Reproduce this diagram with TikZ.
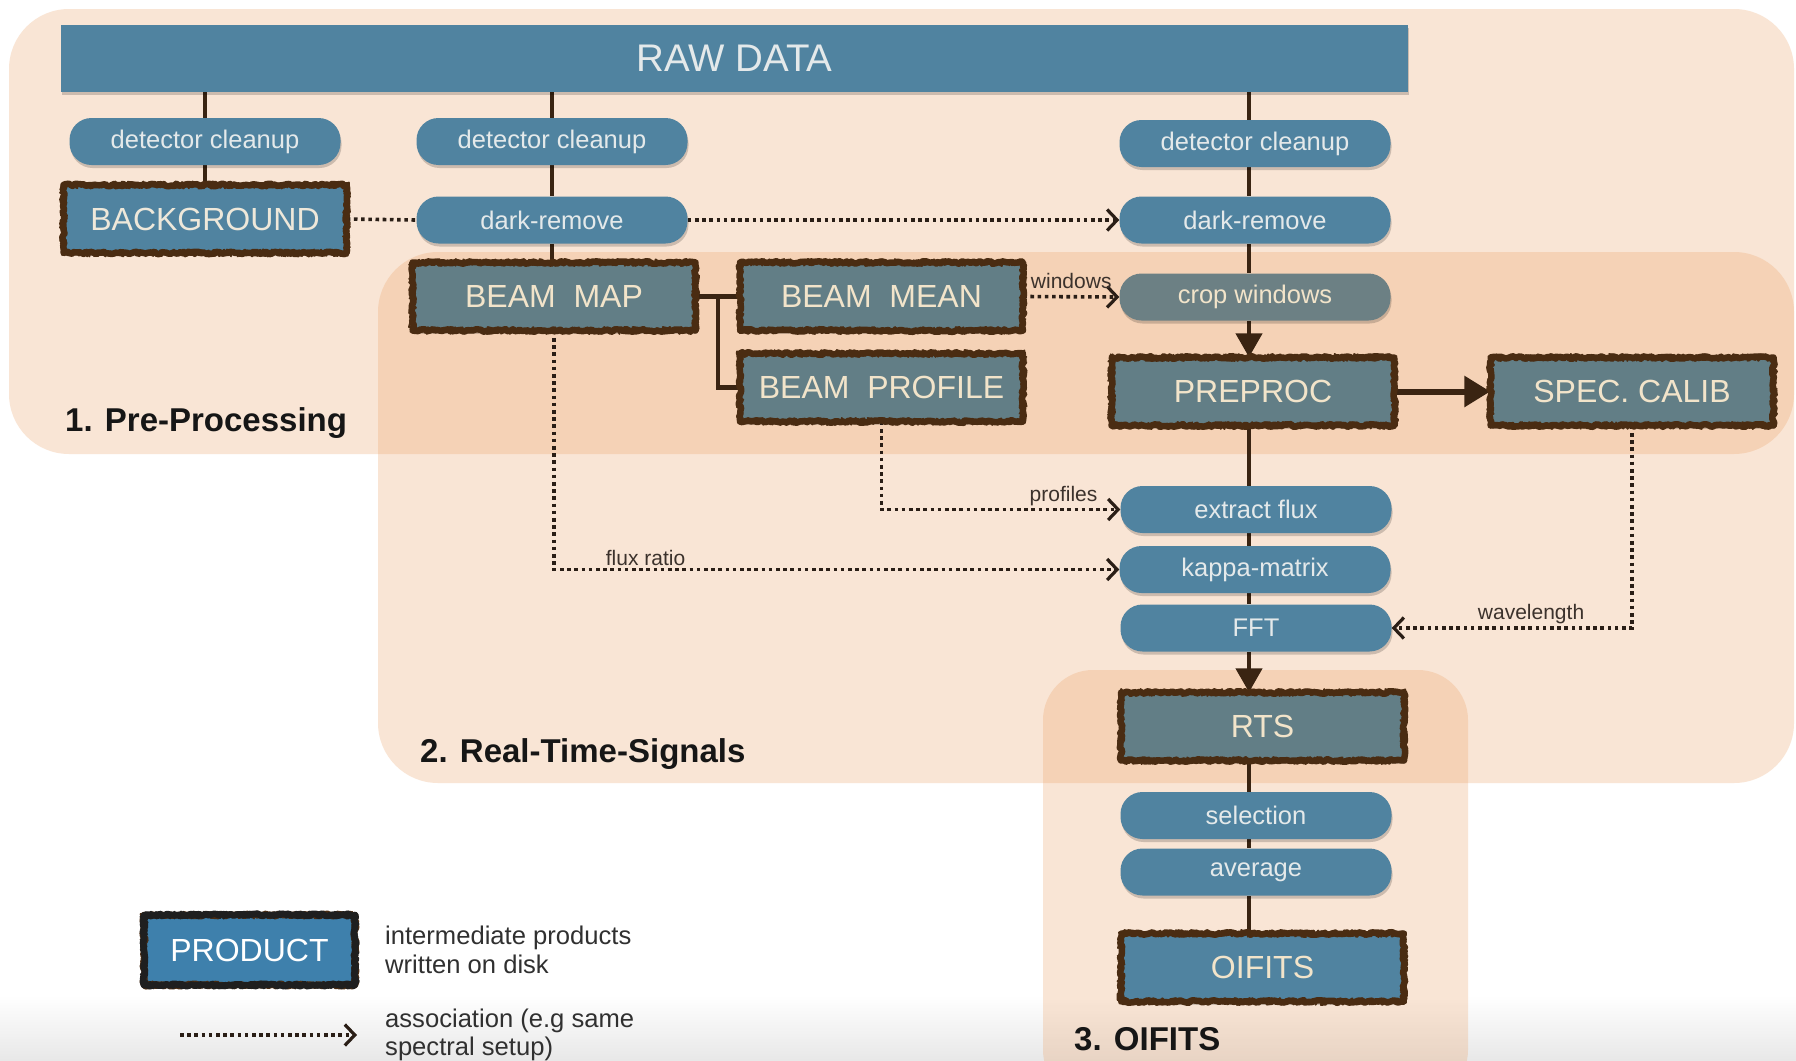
\documentclass[tikz,border=0pt]{standalone}
\usepackage{fontspec}
\setmainfont{Liberation Sans}
\usetikzlibrary{arrows.meta,decorations.pathmorphing,shadows,calc}

% palette
\definecolor{zone}{RGB}{235,155,91}
\definecolor{stepblue}{RGB}{80,131,160}
\definecolor{legendblue}{RGB}{62,128,172}
\definecolor{prodgray}{RGB}{98,126,134}
\definecolor{cropgray}{RGB}{108,128,132}
\definecolor{cream}{RGB}{242,228,202}
\definecolor{pilltext}{RGB}{228,233,234}
\definecolor{edgebrown}{RGB}{74,44,18}
\definecolor{wire}{RGB}{58,36,18}
\definecolor{dotwire}{RGB}{42,30,22}
\definecolor{ink}{RGB}{22,22,22}
\definecolor{notegray}{RGB}{48,48,48}
\definecolor{taggray}{RGB}{60,50,44}

\pgfdeclarelayer{zones}
\pgfdeclarelayer{wires}
\pgfsetlayers{zones,wires,main}

\tikzset{
  zonebox/.style={fill=zone, fill opacity=.25, rounded corners=60pt},
  softshadow/.style={drop shadow={shadow xshift=1pt, shadow yshift=-3pt, opacity=.18, fill=black}},
  bar/.style={softshadow, fill=stepblue, minimum width=1347pt, minimum height=67pt,
    inner sep=0pt, text=pilltext, font=\fontsize{38.5}{46}\selectfont},
  pill/.style={softshadow, fill=stepblue, rounded corners=22pt, minimum width=271pt,
    minimum height=47pt, inner sep=0pt, text=pilltext, font=\fontsize{25.5}{30}\selectfont},
  pillgray/.style={pill, fill=cropgray, text=cream},
  roughedge/.style={
    postaction={draw=#1, line width=6.5pt, line join=round, decorate,
      decoration={random steps, segment length=2.5pt, amplitude=1.3pt}},
    postaction={draw=#1, line width=2pt, line join=round, decorate,
      decoration={random steps, segment length=1.2pt, amplitude=3.5pt}}},
  product/.style={softshadow, fill=prodgray, minimum width=283pt, minimum height=68pt,
    inner sep=0pt, text=cream, font=\fontsize{32}{38}\selectfont, roughedge=edgebrown},
  productblue/.style={product, fill=stepblue},
  flow/.style={draw=wire, line width=4.5pt},
  bigflow/.style={flow, -{Triangle[length=24pt,width=26pt]}},
  assocline/.style={draw=dotwire, line width=3.6pt, dash pattern=on 3.6pt off 3.6pt},
  assoc/.style={assocline, -{Straight Barb[length=10pt,width=21pt,line width=3.2pt]}},
  tag/.style={text=taggray, font=\fontsize{21}{25}\selectfont, inner sep=2pt},
  heading/.style={text=ink, font=\bfseries\fontsize{33}{40}\selectfont, anchor=west, inner sep=0pt},
  note/.style={text=notegray, font=\fontsize{25.6}{28.6}\selectfont, align=left, anchor=west, inner sep=0pt},
}

\begin{document}
\begin{tikzpicture}[x=1pt,y=-1pt]
\useasboundingbox (0,0) rectangle (1796,1060);

% stage areas
\begin{pgfonlayer}{zones}
  \fill[white] (0,0) rectangle (1796,1060);
  \shade[top color=white, bottom color=black!9] (0,995) rectangle (1796,1060);
  \fill[zonebox] (9,9) rectangle (1794,454);
  \fill[zonebox] (378,252) rectangle (1794,783);
  \fill[zonebox, rounded corners=50pt] (1043,670) rectangle (1468,1100);
\end{pgfonlayer}

% raw input
\node[bar] (raw) at (734.5,58.5) {RAW DATA};

% background column
\node[pill] (clean1) at (205,141.5) {detector cleanup};
\node[productblue, text={rgb,255:red,238;green,232;blue,218}] (bkg) at (205,219) {BACKGROUND};

% beam column
\node[pill] (clean2) at (552,141.5) {detector cleanup};
\node[pill] (dark2) at (552,220) {dark-remove};
\node[product] (bmap) at (554,296.5) {BEAM~~MAP};
\node[product] (bmean) at (881.5,296.5) {BEAM~~MEAN};
\node[product] (bprof) at (881.5,387.5) {BEAM~~PROFILE};

% science column
\coordinate (spine) at (1249,0);
\node[pill] (clean3) at (1255,143.5) {detector cleanup};
\node[pill] (dark3) at (1255,220) {dark-remove};
\node[pillgray] (crop) at (1255,297) {crop windows};
\node[product] (pre) at (1253,391.5) {PREPROC};
\node[product] (spec) at (1632,391.5) {SPEC. CALIB};
\node[pill] (flux) at (1256,509.5) {extract flux};
\node[pill] (kappa) at (1255,569.5) {kappa-matrix};
\node[pill] (fft) at (1256,628) {FFT};
\node[product] (rts) at (1262.5,726.5) {RTS};
\node[pill] (sel) at (1256,815.5) {selection};
\node[pill] (avg) at (1256,872) {average};
\node[productblue] (oifits) at (1262.5,967.5) {OIFITS};

% stage titles
\node[heading] (h1) at (65,423) {1. Pre-Processing};
\node[heading] (h2) at (420,754) {2. Real-Time-Signals};
\node[heading] (h3) at (1074,1039) {3. OIFITS};

% legend
\node[product, fill=legendblue, text=white, minimum width=211pt, minimum height=70pt,
      roughedge=black!88] (legprod) at (249.5,950) {PRODUCT};
\node[note] (legprodtxt) at (385,950) {intermediate products\\written on disk};
\coordinate (legA) at (180,1035);
\coordinate (legB) at (357,1035);
\node[note] (legassoctxt) at (385,1035) {association (e.g same\\spectral setup)};

\begin{pgfonlayer}{wires}
  % processing chains
  \draw[flow] (raw.south -| clean1) -- (clean1);
  \draw[flow] (clean1) -- (bkg);
  \draw[flow] (raw.south -| clean2) -- (clean2);
  \draw[flow] (clean2) -- (dark2);
  \draw[flow] (dark2.south) -- (dark2.south |- bmap.north);
  \draw[flow] (bmap.east) -- (bmean.west);
  \coordinate (fork) at ($(bmap.east)!0.5!(bmean.west)$);
  \draw[flow] (fork) |- (bprof.west);

  \draw[flow] (raw.south -| spine) -- (clean3.north -| spine);
  \draw[flow] (clean3.south -| spine) -- (dark3.north -| spine);
  \draw[flow] (dark3.south -| spine) -- (crop.north -| spine);
  \draw[bigflow] (crop.south -| spine) -- (pre.north -| spine);
  \draw[flow] (pre.south -| spine) -- (flux.north -| spine);
  \draw[flow] (flux.south -| spine) -- (kappa.north -| spine);
  \draw[flow] (kappa.south -| spine) -- (fft.north -| spine);
  \draw[bigflow] (fft.south -| spine) -- (rts.north -| spine);
  \draw[flow] (rts.south -| spine) -- (sel.north -| spine);
  \draw[flow] (sel.south -| spine) -- (avg.north -| spine);
  \draw[flow] (avg.south -| spine) -- (oifits.north -| spine);
  \draw[flow, line width=6pt, -{Triangle[length=26pt,width=30pt]}] (pre.east) -- (spec.west);

  % associations
  \draw[assocline] (bkg.east) -- (dark2.west);
  \draw[assoc] (dark2.east) -- (dark3.west);
  \draw[assoc] (bmean.east) -- node[tag, midway, above=4pt] {windows} (crop.west);
  \draw[assoc] (bprof.south) |- node[tag, pos=0.96, above left] {profiles} (flux.west);
  \draw[assoc] (bmap.south) |- node[tag, pos=0.581, above] {flux ratio} (kappa.west);
  \draw[assoc] (spec.south) |- node[tag, pos=0.71, above] {wavelength} (fft.east);
  \draw[assoc] (legA) -- (legB);
\end{pgfonlayer}
\end{tikzpicture}
\end{document}
